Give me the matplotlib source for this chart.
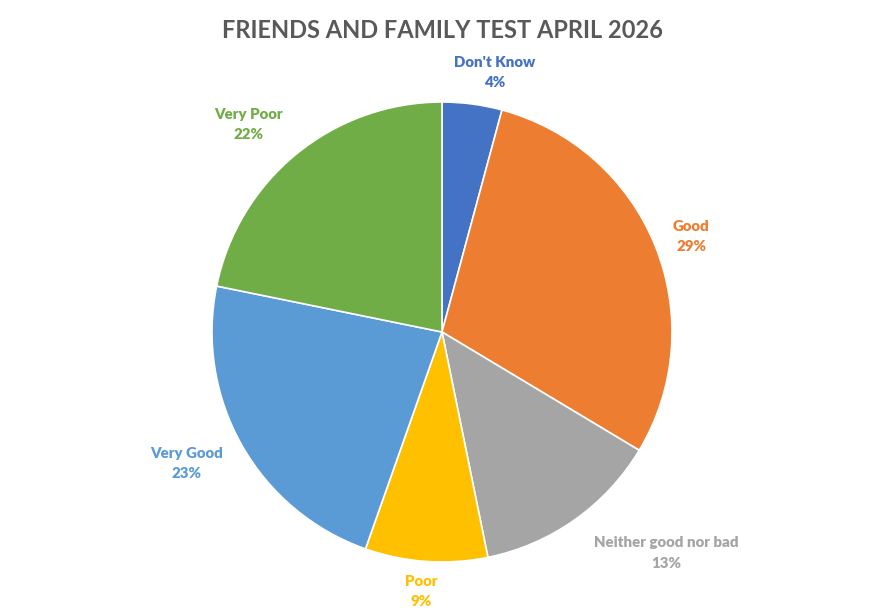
import matplotlib.pyplot as plt

categories = ["Don't Know", "Good", "Neither good nor bad", "Poor", "Very Good", "Very Poor"]
values = [4.2, 29.4, 13.2, 8.6, 22.8, 21.8]
colors = ["#4472C4", "#ED7D31", "#A5A5A5", "#FFC000", "#5B9BD5", "#70AD47"]
# label anchor positions (in pie radius units)
label_pos = [(0.23, 1.13), (1.083, 0.417), (0.974, -0.961),
             (-0.091, -1.13), (-1.109, -0.570), (-0.843, 0.904)]

plt.rcParams['font.family'] = ['Lato', 'DejaVu Sans']

fig = plt.figure(figsize=(8.85, 6.16), dpi=100)
ax = fig.add_axes([(442 - 230) / 885, (616 - 332 - 230) / 616, 460 / 885, 460 / 616])

total = sum(values)
ax.pie(values, colors=colors, startangle=90, counterclock=False, radius=1,
       wedgeprops=dict(edgecolor="white", linewidth=1.2))
ax.set_xlim(-1, 1)
ax.set_ylim(-1, 1)
ax.set_aspect("equal")

for cat, v, c, (x, y) in zip(categories, values, colors, label_pos):
    ax.text(x, y, f"{cat}\n{round(v / total * 100)}%", ha="center", va="center",
            color=c, fontsize=10.8, fontweight="heavy", linespacing=1.65)

fig.text(0.5, 1 - 30 / 616, "FRIENDS AND FAMILY TEST APRIL 2026", ha="center", va="center",
         fontsize=17, fontweight="bold", color="#595959")

fig.savefig("out.png", dpi=100, facecolor="white")
